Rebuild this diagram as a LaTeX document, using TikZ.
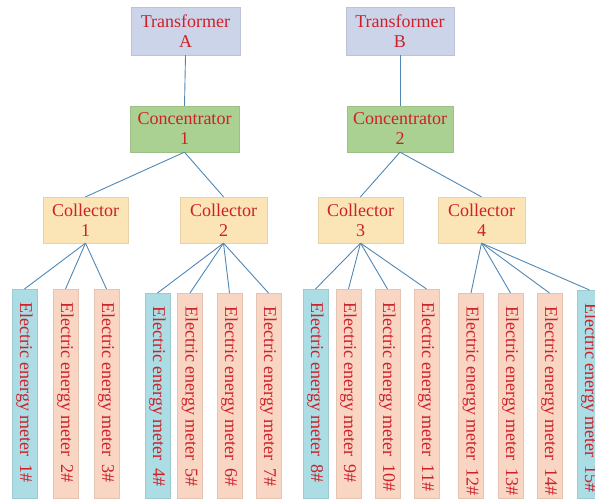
\documentclass[tikz,border=0pt]{standalone}
\usepackage{fontspec}
\setmainfont{Liberation Serif}
\definecolor{txtred}{RGB}{205,32,40}
\definecolor{lineblue}{RGB}{80,135,180}
\definecolor{transf}{RGB}{204,212,234}
\definecolor{conc}{RGB}{170,209,145}
\definecolor{coll}{RGB}{251,228,182}
\definecolor{peach}{RGB}{249,213,196}
\definecolor{cyanm}{RGB}{172,220,228}
\begin{document}
\begin{tikzpicture}[x=1pt,y=-1pt,
  box/.style={rectangle,inner sep=0pt,align=center,text=txtred,
    font=\fontsize{18}{20}\selectfont,draw=#1!92!black,line width=0.3pt,fill=#1},
  meterbox/.style={rectangle,inner sep=0pt,anchor=north,minimum width=25pt,
    draw=#1!92!black,line width=0.3pt,fill=#1},
  metertext/.style={rotate=-90,anchor=west,inner sep=0pt,text=txtred,
    font=\fontsize{18}{20}\selectfont},
  link/.style={draw=lineblue,line width=0.9pt}]
\useasboundingbox (0,0) rectangle (595,500);
\clip (0,0) rectangle (595,500);
% top levels
\node[box=transf,minimum width=109pt,minimum height=48pt] (ta) at (185.5,31) {Transformer\\A};
\node[box=transf,minimum width=108pt,minimum height=48pt] (tb) at (400,31) {Transformer\\B};
\node[box=conc,minimum width=109pt,minimum height=46pt] (c1) at (184.5,129) {Concentrator\\1};
\node[box=conc,minimum width=106pt,minimum height=46pt] (c2) at (400,129) {Concentrator\\2};
\node[box=coll,minimum width=85pt,minimum height=46pt] (k1) at (85.5,220) {Collector\\1};
\node[box=coll,minimum width=87pt,minimum height=46pt] (k2) at (223.5,220) {Collector\\2};
\node[box=coll,minimum width=85pt,minimum height=46pt] (k3) at (360.5,220) {Collector\\3};
\node[box=coll,minimum width=87pt,minimum height=46pt] (k4) at (481.5,220) {Collector\\4};
% meters
\foreach \i/\cx/\tp/\col in {1/24.5/289/cyanm,2/65.5/289/peach,3/106.5/289/peach,
  4/157.5/293/cyanm,5/190/293/peach,6/229.5/293/peach,7/268.5/293/peach,
  8/315.5/289/cyanm,9/348.5/289/peach,10/387.5/289/peach,11/426.5/289/peach,
  12/471/293/peach,13/510.5/293/peach,14/549.5/293/peach,15/589.5/290/cyanm}{
  \pgfmathsetmacro{\hh}{498-\tp}
  \node[meterbox=\col,minimum height=\hh pt] (m\i) at (\cx,\tp) {};
  \node[metertext] (t\i) at ([yshift=-13pt]m\i.north) {Electric energy meter\hspace{0.45em}\i\#};
}
% links
\draw[link] (ta.south) -- (c1.north);
\draw[link] (tb.south) -- (c2.north);
\draw[link] (c1.south) -- (k1.north);
\draw[link] (c1.south) -- (k2.north);
\draw[link] (c2.south) -- (k3.north);
\draw[link] (c2.south) -- (k4.north);
\foreach \m in {1,2,3} \draw[link] (k1.south) -- (m\m.north);
\foreach \m in {4,5,6,7} \draw[link] (k2.south) -- (m\m.north);
\foreach \m in {8,9,10,11} \draw[link] (k3.south) -- (m\m.north);
\foreach \m in {12,13,14,15} \draw[link] (k4.south) -- (m\m.north);
\end{tikzpicture}
\end{document}
